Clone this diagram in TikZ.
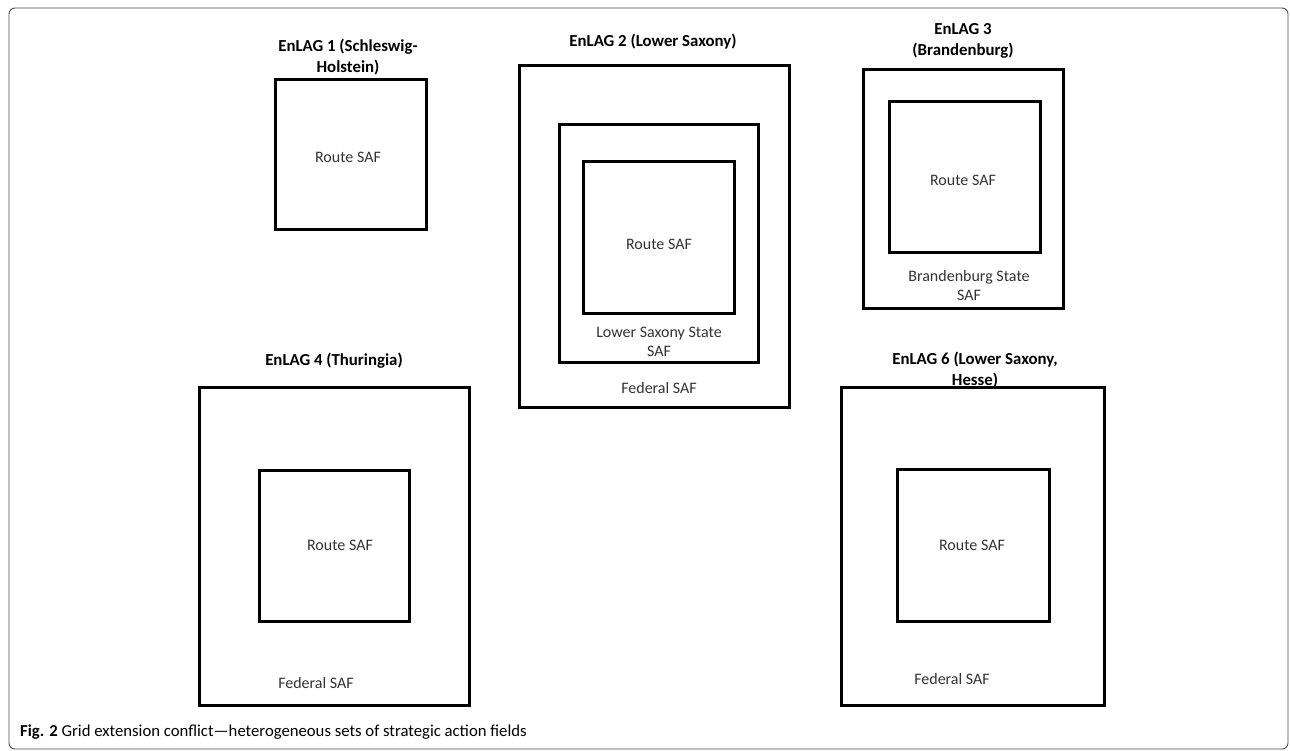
\documentclass[tikz,border=0pt]{standalone}
\usepackage{fontspec}
\setmainfont{Carlito}
\usetikzlibrary{positioning}

\begin{document}
\begin{tikzpicture}[
    x=1pt, y=-1pt,
    every node/.style={font=\fontsize{16}{19}\selectfont},
    saf/.style={draw, line width=3pt, inner sep=0pt},
    lbl/.style={align=center, text=black!80, inner sep=0pt},
    ttl/.style={align=center, font=\fontsize{16.8}{21}\selectfont\bfseries, inner sep=0pt},
    frame/.style={draw=black!70, line width=0.9pt, rounded corners=6pt}
]
    \useasboundingbox (0,0) rectangle (1290,751);
    \draw[frame] (9,8) rectangle (1288,749);

    % EnLAG 1
    \node[saf, minimum width=151pt, minimum height=150pt] (r1) at (350.5,155) {};
    \node[lbl] (r1t) at (348,157) {Route SAF};
    \node[ttl] (t1) at (348,57) {EnLAG 1 (Schleswig-\\Holstein)};

    % EnLAG 2
    \node[saf, minimum width=270pt, minimum height=341pt] (f2) at (654,236.5) {};
    \node[saf, minimum width=199pt, minimum height=237pt] (s2) at (658.5,243.5) {};
    \node[saf, minimum width=151pt, minimum height=151pt] (r2) at (658.5,237.5) {};
    \node[lbl] (r2t) at (659,244) {Route SAF};
    \node[lbl] (s2t) at (659,342) {Lower Saxony State\\SAF};
    \node[lbl] (f2t) at (659,388) {Federal SAF};
    \node[ttl] (t2) at (653,42) {EnLAG 2 (Lower Saxony)};

    % EnLAG 3
    \node[saf, minimum width=200pt, minimum height=238pt] (s3) at (963,189) {};
    \node[saf, minimum width=151pt, minimum height=151pt] (r3) at (964.5,177.5) {};
    \node[lbl] (r3t) at (963,180) {Route SAF};
    \node[lbl] (s3t) at (969,286) {Brandenburg State\\SAF};
    \node[ttl] (t3) at (963,41) {EnLAG 3\\(Brandenburg)};

    % EnLAG 4
    \node[saf, minimum width=270pt, minimum height=318pt] (f4) at (334,546) {};
    \node[saf, minimum width=150pt, minimum height=151pt] (r4) at (334,545.5) {};
    \node[lbl] (r4t) at (340,545) {Route SAF};
    \node[lbl] (f4t) at (316,683) {Federal SAF};
    \node[ttl] (t4) at (334,361) {EnLAG 4 (Thuringia)};

    % EnLAG 6
    \node[saf, minimum width=263pt, minimum height=318pt] (f6) at (972.5,546) {};
    \node[saf, minimum width=152pt, minimum height=152pt] (r6) at (973,545) {};
    \node[lbl] (r6t) at (972,545) {Route SAF};
    \node[lbl] (f6t) at (952,679) {Federal SAF};
    \node[ttl] (t6) at (975,370) {EnLAG 6 (Lower Saxony,\\Hesse)};

    % caption
    \node[anchor=base west, inner sep=0pt, font=\fontsize{16.7}{20}\selectfont] (cap) at (20,736)
        {\textbf{Fig. 2} Grid extension conflict---heterogeneous sets of strategic action fields};
\end{tikzpicture}
\end{document}
